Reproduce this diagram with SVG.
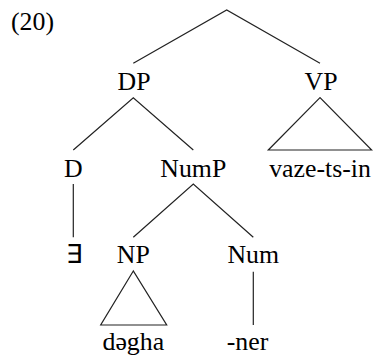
<svg xmlns="http://www.w3.org/2000/svg" width="373" height="355" viewBox="0 0 373 355">
<style>
.t{font-family:'Liberation Serif',serif;font-size:25.8px;fill:#000;text-anchor:middle}
.e{stroke:#222;stroke-width:1.2;fill:none}
</style>
<rect width="373" height="355" fill="#fff"/>
<text class="t" x="11" y="30" style="text-anchor:start">(20)</text>
<g id="connectors">
<path class="e" d="M133.3 63.3 L226.7 10 L320 63.3"/>
<path class="e" d="M73.3 150 L133.3 97.7 L193.3 150"/>
<path class="e" d="M320 97.7 L268.3 150 L371.7 150 Z"/>
<path class="e" d="M73.3 184 L73.3 237.3"/>
<path class="e" d="M133.3 237.3 L193.3 184 L253.3 237.3"/>
<path class="e" d="M133.3 271 L100.7 325 L166.7 325 Z"/>
<path class="e" d="M253.3 271.7 L253.3 325"/>
</g>
<g id="DP"><text class="t" x="134" y="90">DP</text></g>
<g id="VP"><text class="t" x="321" y="90">VP</text></g>
<g id="D"><text class="t" x="73.3" y="177">D</text></g>
<g id="NumP"><text class="t" x="193.3" y="177">NumP</text></g>
<g id="vaze"><text class="t" x="320" y="177">vaze-ts-in</text></g>
<g id="exists"><text class="t" x="74" y="263">∃</text></g>
<g id="NP"><text class="t" x="133.3" y="263">NP</text></g>
<g id="Num"><text class="t" x="253.3" y="263">Num</text></g>
<g id="dagha"><text class="t" x="133.3" y="350">dəgha</text></g>
<g id="ner"><text class="t" x="247.5" y="350">-ner</text></g>
</svg>
